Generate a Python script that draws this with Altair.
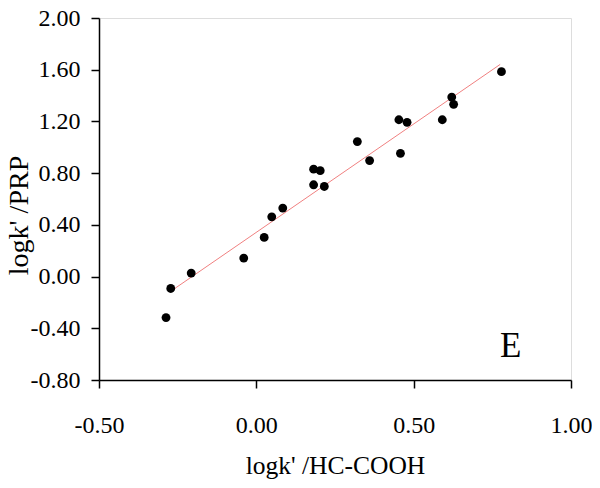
import altair as alt
import pandas as pd

x_vals = [-0.287, -0.272, -0.207, -0.040, 0.025, 0.049, 0.084, 0.182, 0.216, 0.182,
          0.203, 0.321, 0.360, 0.458, 0.453, 0.479, 0.591, 0.621, 0.627, 0.779]
y_vals = [-0.317, -0.092, 0.027, 0.143, 0.303, 0.462, 0.530, 0.710, 0.697, 0.831,
          0.819, 1.044, 0.897, 0.953, 1.213, 1.193, 1.213, 1.388, 1.332, 1.585]

x_ticks = [-0.5, 0.0, 0.5, 1.0]
y_ticks = [-0.8, -0.4, 0.0, 0.4, 0.8, 1.2, 1.6, 2.0]

label_text = ["E"]
label_x = [0.808]
label_y = [-0.623]

df = pd.DataFrame({"x": x_vals, "y": y_vals})
lab = pd.DataFrame({"t": label_text, "x": label_x, "y": label_y})

FONT = "Liberation Serif"
fmt = "datum.value < 0 ? '-' + format(-datum.value, '.2f') : format(datum.value, '.2f')"

xs = alt.Scale(domain=[-0.5, 1.0], nice=False, zero=False)
ys = alt.Scale(domain=[-0.8, 2.0], nice=False, zero=False)

xaxis = alt.Axis(values=x_ticks, labelExpr=fmt, title="logk' /HC-COOH", grid=False,
                 tickSize=8, tickColor="black", tickWidth=1.5, domainColor="black", domainWidth=1.5,
                 labelFont=FONT, labelFontSize=24, labelColor="black",
                 labelBaseline="alphabetic", labelPadding=44, labelAlign="center",
                 titleFont=FONT, titleFontSize=25.5, titleFontWeight="normal", titleColor="black",
                 titleBaseline="alphabetic", titleY=93, titleX=236, titleAlign="center")
yaxis = alt.Axis(values=y_ticks, labelExpr=fmt, title="logk' /PRP", grid=False,
                 tickSize=8, tickColor="black", tickWidth=1.5, domainColor="black", domainWidth=1.5,
                 labelFont=FONT, labelFontSize=24, labelColor="black", labelPadding=11,
                 titleFont=FONT, titleFontSize=28, titleFontWeight="normal", titleColor="black",
                 titleAngle=270, titleBaseline="alphabetic", titleAlign="center",
                 titleX=-72, titleY=197)

base = alt.Chart(df)

points = base.mark_circle(size=78, color="black", opacity=1).encode(
    x=alt.X("x:Q", scale=xs, axis=xaxis),
    y=alt.Y("y:Q", scale=ys, axis=yaxis),
)

line = base.transform_regression("x", "y", extent=[-0.26, 0.775]).mark_line(
    color="#f08080", strokeWidth=1
).encode(x=alt.X("x:Q", scale=xs), y=alt.Y("y:Q", scale=ys))

text = alt.Chart(lab).mark_text(font=FONT, fontSize=35, color="black",
                                align="center", baseline="alphabetic").encode(
    x=alt.X("x:Q", scale=xs), y=alt.Y("y:Q", scale=ys), text="t:N")

chart = alt.layer(line, points, text).properties(
    width=472, height=362,
    autosize=alt.AutoSizeParams(type="none"),
    padding={"left": 91, "top": 10, "right": 21, "bottom": 100},
).configure_view(stroke="black", strokeWidth=1.5).configure(background="white")

chart.save("out.html", embed_options={"renderer": "svg", "actions": False})
